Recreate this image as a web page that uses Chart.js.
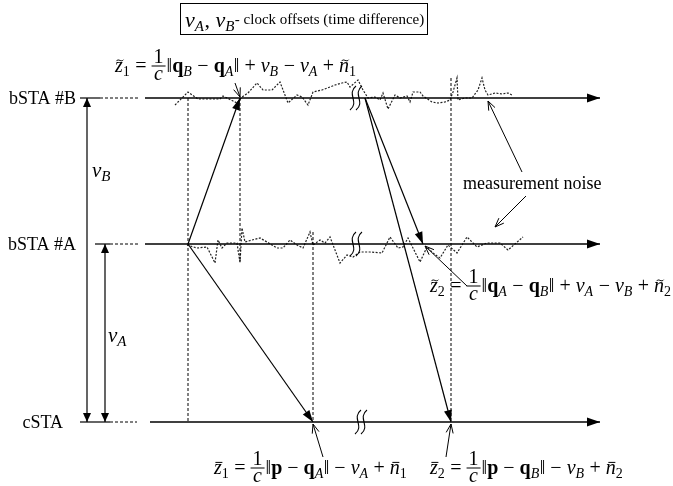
<!DOCTYPE html>
<html>
<head>
<meta charset="utf-8">
<script src="https://cdn.jsdelivr.net/npm/chart.js@4.4.0/dist/chart.umd.min.js"></script>
<style>
  html, body { margin: 0; padding: 0; background: #fff; }
  canvas { display: block; }
</style>
</head>
<body>
<canvas id="diagram" width="673" height="486"></canvas>
<script>
// diagram units: x = time along each station axis, y = station level (0 at top)
const stationNames = ['bSTA #B', 'bSTA #A', 'cSTA'];
const stationLevel = [98, 244, 422];
const axisStart = [145, 145, 150];
const axisEnd = [600, 600, 600];
const stubSolid = [[80, 100], [95, 110], [80, 110]];
const stubDashed = [[100, 138], [110, 138], [110, 137]];

// clock offset arrows: [x, top, bottom]
const offsetArrows = [[87, 98, 422], [105, 244, 422]];

// vertical dashed drop lines: [x, from, to]
const dropLines = [[188, 98, 422], [240, 98, 263], [313, 232, 422], [451, 78, 422]];

// signal paths: [x0, y0, x1, y1]
const signals = [
  [188, 244, 240, 98],
  [188, 244, 313, 422],
  [365, 98, 423, 244],
  [365, 98, 451, 422]
];

// annotation pointers: [fromX, fromY, toX, toY]
const pointers = [
  [235, 83, 240, 97],
  [522, 172, 488, 101],
  [526, 196, 495, 227],
  [467, 286, 425, 246],
  [323, 457, 313, 424],
  [446, 457, 451, 424]
];

// axis breaks
const breakX = [353, 353, 358];

// measurement noise around bSTA #B and bSTA #A
const noiseB = [[175,105],[188,92],[198,99],[220,99],[223,96],[237,103],[242,97],[248,93],[257,83],[263,90],[272,90],[280,82],[288,103],[297,95],[302,97],[308,105],[313,92],[322,90],[330,87],[335,85],[342,83],[347,82],[350,87],
  [358,80],[363,90],[368,98],[375,97],[380,100],[383,93],[388,109],[395,95],[400,98],[407,96],[410,102],[413,92],[420,92],[423,96],[432,102],[438,103],[445,102],[450,100],[453,92],[457,78],[458,100],[465,98],[472,98],[478,90],[482,78],[485,90],[488,95],[495,93],[502,94],[508,93],[512,95]];
const noiseA = [[187,245],[197,248],[207,247],[215,263],[218,240],[222,248],[227,243],[237,243],[240,263],[242,228],[245,242],[252,240],[260,238],[267,242],[277,248],[283,248],[290,240],[297,245],[303,248],[310,232],[313,245],[320,240],[325,243],[330,237],[340,263],[347,255],[353,257],
  [360,252],[370,252],[382,253],[390,237],[398,248],[403,247],[408,238],[413,248],[420,262],[427,247],[433,253],[440,258],[448,245],[457,253],[467,237],[477,247],[487,243],[500,243],[508,250],[523,237]];

const SERIF = '"Liberation Serif", "DejaVu Serif", serif';

function seg(pts, extra) {
  return Object.assign({
    data: pts.map(p => ({ x: p[0], y: p[1] })),
    showLine: true,
    pointRadius: 0,
    borderColor: '#000',
    borderWidth: 1.2,
    fill: false,
    tension: 0
  }, extra);
}

const datasets = [];
stationLevel.forEach((y, i) => {
  datasets.push(seg([[axisStart[i], y], [axisEnd[i], y]], { borderWidth: 1.4, head: 'axis' }));
  datasets.push(seg([[stubSolid[i][0], y], [stubSolid[i][1], y]], { borderWidth: 1.2 }));
  datasets.push(seg([[stubDashed[i][0], y], [stubDashed[i][1], y]], { borderWidth: 1, borderDash: [3, 2] }));
});
offsetArrows.forEach(a => datasets.push(seg([[a[0], a[1]], [a[0], a[2]]], { head: 'fill', tail: 'fill', headLen: 9, headW: 4 })));
dropLines.forEach(d => datasets.push(seg([[d[0], d[1]], [d[0], d[2]]], { borderWidth: 1, borderDash: [3, 2] })));
datasets.push(seg(noiseB, { borderWidth: 1.2, borderDash: [2, 1.5], borderColor: '#222' }));
datasets.push(seg(noiseA, { borderWidth: 1.2, borderDash: [2, 1.5], borderColor: '#222' }));
signals.forEach(s => datasets.push(seg([[s[0], s[1]], [s[2], s[3]]], { head: 'fill', headLen: 12, headW: 4 })));
pointers.forEach(p => datasets.push(seg([[p[0], p[1]], [p[2], p[3]]], { borderWidth: 1, head: 'open', headLen: 9, headW: 3.5 })));

function drawHead(ctx, a, b, kind, len, w) {
  const ang = Math.atan2(b.y - a.y, b.x - a.x);
  const dx = Math.cos(ang), dy = Math.sin(ang);
  const bx = b.x - dx * len, by = b.y - dy * len;
  ctx.beginPath();
  ctx.moveTo(bx - dy * w, by + dx * w);
  ctx.lineTo(b.x, b.y);
  ctx.lineTo(bx + dy * w, by - dx * w);
  if (kind === 'open') {
    ctx.lineWidth = 1;
    ctx.stroke();
  } else {
    ctx.closePath();
    ctx.fill();
  }
}

const arrowPlugin = {
  id: 'arrows',
  afterDatasetsDraw(chart) {
    const ctx = chart.ctx;
    ctx.save();
    ctx.fillStyle = '#000';
    ctx.strokeStyle = '#000';
    ctx.setLineDash([]);
    chart.data.datasets.forEach((ds, i) => {
      if (!ds.head) return;
      const pts = chart.getDatasetMeta(i).data;
      const n = pts.length;
      if (ds.head === 'axis') drawHead(ctx, pts[n - 2], pts[n - 1], 'fill', 13, 4.5);
      else drawHead(ctx, pts[n - 2], pts[n - 1], ds.head, ds.headLen, ds.headW);
      if (ds.tail) drawHead(ctx, pts[1], pts[0], ds.tail, ds.headLen, ds.headW);
    });
    // axis breaks
    const sx = chart.scales.x, sy = chart.scales.y;
    ctx.lineWidth = 1.1;
    breakX.forEach((bx, i) => {
      const x = sx.getPixelForValue(bx), y = sy.getPixelForValue(stationLevel[i]);
      [0, 6].forEach(off => {
        ctx.beginPath();
        ctx.moveTo(x + off + 3, y - 12);
        ctx.bezierCurveTo(x + off - 7, y - 4, x + off + 7, y + 4, x + off - 3, y + 12);
        ctx.stroke();
      });
    });
    ctx.restore();
  }
};

// tiny math typesetter: tokens {s, it, b, acc} | {sub, it} | {frac:[num, den]}
function drawMath(ctx, x, y, toks, size) {
  const font = (t, sz) => (t.it ? 'italic ' : '') + (t.b ? 'bold ' : '') + sz + 'px ' + SERIF;
  ctx.textBaseline = 'alphabetic';
  ctx.textAlign = 'left';
  toks.forEach(t => {
    if (t.frac) {
      ctx.font = font({}, size);
      const wn = ctx.measureText(t.frac[0]).width;
      ctx.font = font({ it: 1 }, size);
      const wd = ctx.measureText(t.frac[1]).width;
      const w = Math.max(wn, wd) + 4;
      const bar = y - size * 0.3;
      ctx.font = font({}, size);
      ctx.fillText(t.frac[0], x + (w - wn) / 2, bar - 3);
      ctx.font = font({ it: 1 }, size);
      ctx.fillText(t.frac[1], x + (w - wd) / 2, bar + size * 0.68);
      ctx.fillRect(x, bar - 0.5, w, 1);
      x += w + 1;
    } else if (t.sub !== undefined) {
      const sz = Math.round(size * 0.7);
      ctx.font = font(t, sz);
      ctx.fillText(t.sub, x, y + size * 0.2);
      x += ctx.measureText(t.sub).width + 0.5;
    } else {
      ctx.font = font(t, size);
      ctx.fillText(t.s, x, y);
      const w = ctx.measureText(t.s).width;
      if (t.acc) {
        const cx = x + w / 2 + (t.it ? 1 : 0), ay = y - size * 0.58;
        ctx.save();
        ctx.lineWidth = 1;
        ctx.beginPath();
        if (t.acc === '~') {
          ctx.moveTo(cx - 3.5, ay + 0.7);
          ctx.bezierCurveTo(cx - 1.5, ay - 2.5, cx + 1.5, ay + 2.5, cx + 3.5, ay - 0.7);
        } else {
          ctx.moveTo(cx - 3.5, ay);
          ctx.lineTo(cx + 3.5, ay);
        }
        ctx.stroke();
        ctx.restore();
      }
      x += w;
    }
  });
  return x;
}

const I = 1;
const formulaZ1 = [{ s: 'z', it: I, acc: '~' }, { sub: '1' }, { s: ' = ' }, { frac: ['1', 'c'] }, { s: '‖' }, { s: 'q', b: I }, { sub: 'B', it: I }, { s: ' − ' }, { s: 'q', b: I }, { sub: 'A', it: I }, { s: '‖ + ' }, { s: 'ν', it: I }, { sub: 'B', it: I }, { s: ' − ' }, { s: 'ν', it: I }, { sub: 'A', it: I }, { s: ' + ' }, { s: 'n', it: I, acc: '~' }, { sub: '1' }];
const formulaZ2 = [{ s: 'z', it: I, acc: '~' }, { sub: '2' }, { s: ' = ' }, { frac: ['1', 'c'] }, { s: '‖' }, { s: 'q', b: I }, { sub: 'A', it: I }, { s: ' − ' }, { s: 'q', b: I }, { sub: 'B', it: I }, { s: '‖ + ' }, { s: 'ν', it: I }, { sub: 'A', it: I }, { s: ' − ' }, { s: 'ν', it: I }, { sub: 'B', it: I }, { s: ' + ' }, { s: 'n', it: I, acc: '~' }, { sub: '2' }];
const formulaZ1bar = [{ s: 'z', it: I, acc: '-' }, { sub: '1' }, { s: ' = ' }, { frac: ['1', 'c'] }, { s: '‖' }, { s: 'p', b: I }, { s: ' − ' }, { s: 'q', b: I }, { sub: 'A', it: I }, { s: '‖ − ' }, { s: 'ν', it: I }, { sub: 'A', it: I }, { s: ' + ' }, { s: 'n', it: I, acc: '-' }, { sub: '1' }];
const formulaZ2bar = [{ s: 'z', it: I, acc: '-' }, { sub: '2' }, { s: ' = ' }, { frac: ['1', 'c'] }, { s: '‖' }, { s: 'p', b: I }, { s: ' − ' }, { s: 'q', b: I }, { sub: 'B', it: I }, { s: '‖ − ' }, { s: 'ν', it: I }, { sub: 'B', it: I }, { s: ' + ' }, { s: 'n', it: I, acc: '-' }, { sub: '2' }];

const formulas = [
  [formulaZ1, 115, 72],
  [formulaZ2, 430, 292],
  [formulaZ1bar, 214, 474],
  [formulaZ2bar, 430, 474]
];

const textPlugin = {
  id: 'texts',
  afterDraw(chart) {
    const ctx = chart.ctx;
    const sy = chart.scales.y;
    ctx.save();
    ctx.fillStyle = '#000';
    ctx.strokeStyle = '#000';
    // station names
    ctx.font = '18px ' + SERIF;
    ctx.textBaseline = 'middle';
    ctx.textAlign = 'right';
    stationNames.forEach((n, i) => ctx.fillText(n, i === 2 ? 63 : 76, sy.getPixelForValue(stationLevel[i]) + 1));
    // offset labels
    drawMath(ctx, 92, 177, [{ s: 'ν', it: I }, { sub: 'B', it: I }], 21);
    drawMath(ctx, 108, 342, [{ s: 'ν', it: I }, { sub: 'A', it: I }], 21);
    // measurement noise
    ctx.font = '18px ' + SERIF;
    ctx.textAlign = 'left';
    ctx.textBaseline = 'alphabetic';
    ctx.fillText('measurement noise', 463, 189);
    formulas.forEach(f => drawMath(ctx, f[1], f[2], f[0], 20));
    // legend box
    ctx.lineWidth = 1;
    ctx.strokeRect(180.5, 3.5, 247, 31);
    const x = drawMath(ctx, 185, 27, [{ s: 'ν', it: I }, { sub: 'A', it: I }, { s: ', ' }, { s: 'ν', it: I }, { sub: 'B', it: I }], 22);
    ctx.font = '15px ' + SERIF;
    ctx.fillText('- clock offsets (time difference)', x, 24);
    ctx.restore();
  }
};

new Chart(document.getElementById('diagram'), {
  type: 'scatter',
  data: { datasets },
  options: {
    responsive: false,
    animation: false,
    layout: { padding: 0 },
    plugins: { legend: { display: false }, tooltip: { enabled: false } },
    scales: {
      x: { type: 'linear', min: 0, max: 673, display: false },
      y: { type: 'linear', min: 0, max: 486, reverse: true, display: false }
    }
  },
  plugins: [arrowPlugin, textPlugin]
});
</script>
</body>
</html>
